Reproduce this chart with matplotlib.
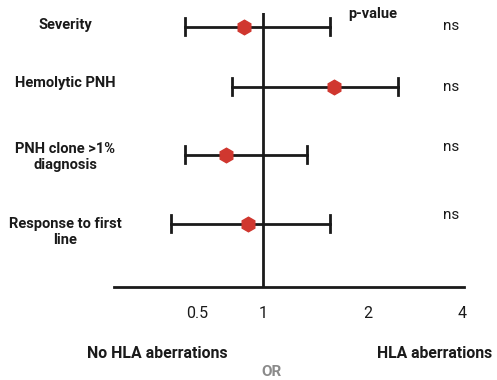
import numpy as np
import matplotlib.pyplot as plt

plt.rcParams['font.family'] = ['Roboto', 'DejaVu Sans']

# data
variaveis = ["Severity", "Hemolytic PNH", "PNH clone >1%\ndiagnosis", "Response to first\nline"]
odds_ratio = [0.82, 1.60, 0.68, 0.85]
ic_inferior = [0.44, 0.72, 0.44, 0.38]
ic_superior = [1.56, 2.50, 1.34, 1.56]
p_valores = ["ns", "ns", "ns", "ns"]
ticks = [0.5, 1, 2, 4]
tick_labels = ["0.5", "1", "2", "4"]

# the original axis is not a clean log scale, so map it piecewise on log2
K = [-4, -1, 0, 1, 2, 4]
P = [-1, 197, 263, 368, 462, 650]


def escala_ida(x):
    x = np.maximum(np.asarray(x, dtype=float), 1e-6)
    return np.interp(np.log2(x), K, P)


def escala_volta(p):
    return 2 ** np.interp(np.asarray(p, dtype=float), P, K)


W, H = 497, 380
fig = plt.figure(figsize=(W / 100, H / 100), dpi=100)
ax = fig.add_axes([114 / W, (H - 287) / H, 350 / W, 274 / H])
ax.set_xscale('function', functions=(escala_ida, escala_volta))
ax.set_xlim(escala_volta(114), escala_volta(464))
# rows are not evenly spaced in the original
y = np.array([0, 0.91, 1.95, 3])
ax.set_ylim(3.96, -0.21)

preto = '#1a1a1a'
vermelho = '#d0372f'
ax.axvline(1, color=preto, lw=2, zorder=1)
for i in range(len(variaveis)):
    ax.plot([ic_inferior[i], ic_superior[i]], [y[i], y[i]], color=preto, lw=2, zorder=2)
    for c in (ic_inferior[i], ic_superior[i]):
        ax.plot([c, c], [y[i] - 0.13, y[i] + 0.13], color=preto, lw=2, zorder=2)
ax.plot(odds_ratio, y, 'h', color=vermelho, ms=10.5, zorder=3)

for s in ['top', 'right', 'left']:
    ax.spines[s].set_visible(False)
ax.spines['bottom'].set_color(preto)
ax.spines['bottom'].set_linewidth(2)
ax.set_yticks([])
ax.set_xticks(ticks)
ax.set_xticklabels(tick_labels, fontsize=11.5)
ax.xaxis.set_minor_locator(plt.NullLocator())
ax.tick_params(axis='x', length=0, pad=14, colors=preto)

# row labels and p-values
posicoes_y = [25, 83, 157, 232]
posicoes_p = [26, 87, 147, 215]
for i in range(len(variaveis)):
    fig.text(65 / W, 1 - posicoes_y[i] / H, variaveis[i], ha='center', va='center',
             fontsize=10.5, fontweight='bold', color=preto, linespacing=1.25)
    fig.text(451 / W, 1 - posicoes_p[i] / H, p_valores[i], ha='center', va='center',
             fontsize=11, color=preto)
fig.text(373 / W, 1 - 14 / H, "p-value", ha='center', va='center',
         fontsize=10.5, fontweight='bold', color=preto)

fig.text(157 / W, 1 - 353 / H, "No HLA aberrations", ha='center', va='center',
         fontsize=11.4, fontweight='bold', color=preto)
fig.text(435 / W, 1 - 354 / H, "HLA aberrations", ha='center', va='center',
         fontsize=11.3, fontweight='bold', color=preto)
fig.text(271 / W, 1 - 372 / H, "OR", ha='center', va='center',
         fontsize=11, fontweight='bold', color='#8a8a8a')

fig.savefig('out.png', dpi=100)
